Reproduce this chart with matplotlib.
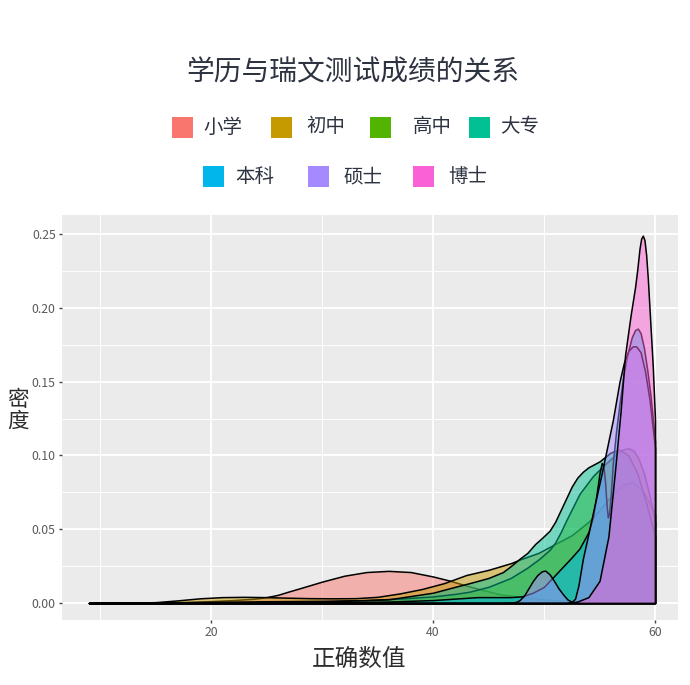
import matplotlib
matplotlib.use("Agg")
import matplotlib.pyplot as plt
from matplotlib.colors import to_rgba
from matplotlib.patches import Rectangle

plt.rcParams['font.family'] = ['Noto Sans CJK SC', 'DejaVu Sans']

# ---------------- data ----------------
categories = ["小学", "初中", "高中", "大专", "本科", "硕士", "博士"]
colors = ["#F8766D", "#C49A00", "#53B400", "#00C094", "#00B6EB", "#A58AFF", "#FB61D7"]

x_primary = [9, 12, 15, 18, 20, 22, 24, 25, 26, 27, 28, 30, 32, 34, 36, 38, 40, 41.5, 43, 44.5, 46, 48, 50, 52, 54, 56, 58, 60]
d_primary = [0.0, 0.0001, 0.0003, 0.0008, 0.0013, 0.0020, 0.0030, 0.0040, 0.0055, 0.0078, 0.0100, 0.0145, 0.0185, 0.0210, 0.0218, 0.0210, 0.0180, 0.0152, 0.0118, 0.0088, 0.0060, 0.0040, 0.0025, 0.0015, 0.0010, 0.0006, 0.0003, 0.0001]

x_junior = [9, 12, 15, 17, 19, 21, 23, 25, 27, 29, 31, 33, 35, 37, 39, 41, 43, 45, 47, 48, 49.5, 51, 52.5, 54, 55, 56, 57, 58, 59, 60]
d_junior = [0.0, 0.0001, 0.0006, 0.0018, 0.0032, 0.0040, 0.0042, 0.0040, 0.0036, 0.0033, 0.0032, 0.0033, 0.0042, 0.0065, 0.0095, 0.0135, 0.0190, 0.0225, 0.0270, 0.0300, 0.0340, 0.0400, 0.0460, 0.0550, 0.0630, 0.0720, 0.0800, 0.0820, 0.0750, 0.0600]

x_senior = [9, 15, 20, 25, 30, 34, 37, 40, 42, 43.3, 45, 47, 48.5, 49.5, 50.5, 51.0, 51.5, 52.0, 52.6, 53.2, 53.9, 54.4, 54.8, 55.5, 56.5, 57.1, 57.6, 58.1, 58.5, 59.0, 59.5, 60]
d_senior = [0.0, 0.0002, 0.0008, 0.0012, 0.0015, 0.0020, 0.0030, 0.0045, 0.0062, 0.0077, 0.0110, 0.0170, 0.0240, 0.0295, 0.0360, 0.0410, 0.0480, 0.0560, 0.0650, 0.0740, 0.0810, 0.0860, 0.0890, 0.0940, 0.1010, 0.1040, 0.1050, 0.1030, 0.0980, 0.0880, 0.0730, 0.0550]

x_college = [9, 20, 30, 36, 40, 42, 43.3, 45, 46.3, 47, 47.8, 48.5, 49.2, 49.8, 50.5, 51.0, 51.5, 52.0, 52.5, 53.0, 53.5, 54.0, 54.5, 55.0, 55.5, 56.0, 56.8, 57.6, 58.4, 59.2, 60]
d_college = [0.0, 0.0003, 0.0010, 0.0025, 0.0070, 0.0110, 0.0135, 0.0170, 0.0210, 0.0250, 0.0300, 0.0340, 0.0400, 0.0440, 0.0490, 0.0550, 0.0630, 0.0710, 0.0790, 0.0850, 0.0890, 0.0920, 0.0940, 0.0960, 0.0990, 0.1020, 0.1040, 0.1000, 0.0880, 0.0680, 0.0450]

x_bachelor = [9, 20, 30, 36, 40, 42, 44, 46, 47, 48, 49, 50, 50.5, 51.5, 52.5, 53.2, 54.0, 54.4, 54.7, 55.0, 55.2, 55.35, 55.5, 55.65, 55.75, 55.85, 56.0, 56.2, 56.5, 56.8, 57.1, 57.5, 57.9, 58.2, 58.45, 58.7, 59.0, 59.3, 59.6, 60]
d_bachelor = [0.0, 0.0002, 0.0005, 0.0010, 0.0020, 0.0030, 0.0040, 0.0040, 0.0040, 0.0045, 0.0070, 0.0110, 0.0150, 0.0230, 0.0310, 0.0370, 0.0480, 0.0580, 0.0720, 0.0880, 0.0950, 0.0930, 0.0820, 0.0650, 0.0580, 0.0600, 0.0720, 0.0950, 0.1170, 0.1350, 0.1520, 0.1680, 0.1800, 0.1850, 0.1860, 0.1830, 0.1730, 0.1580, 0.1400, 0.1100]

x_master = [9, 46, 47, 47.5, 47.8, 48.2, 48.6, 49.0, 49.4, 49.8, 50.1, 50.5, 50.9, 51.3, 51.7, 52.1, 52.5, 52.8, 53.1, 53.5, 54.0, 54.4, 55.2, 55.7, 56.2, 56.8, 57.2, 57.6, 58.0, 58.3, 58.7, 59.1, 59.5, 60]
d_master = [0.0, 0.0, 0.0002, 0.0008, 0.0020, 0.0050, 0.0100, 0.0150, 0.0190, 0.0215, 0.0220, 0.0195, 0.0150, 0.0100, 0.0060, 0.0025, 0.0008, 0.0030, 0.0120, 0.0300, 0.0470, 0.0610, 0.0880, 0.1060, 0.1240, 0.1500, 0.1630, 0.1710, 0.1740, 0.1740, 0.1700, 0.1570, 0.1380, 0.1050]

x_doctor = [9, 52, 53, 54, 55, 55.8, 56.4, 56.9, 57.3, 57.8, 58.2, 58.4, 58.6, 58.75, 58.9, 59.05, 59.2, 59.35, 59.5, 59.65, 59.8, 60]
d_doctor = [0.0, 0.0, 0.0010, 0.0040, 0.0150, 0.0450, 0.0900, 0.1300, 0.1680, 0.1950, 0.2140, 0.2260, 0.2400, 0.2470, 0.2490, 0.2460, 0.2360, 0.2200, 0.2000, 0.1800, 0.1600, 0.1240]

series_x = [x_primary, x_junior, x_senior, x_college, x_bachelor, x_master, x_doctor]
series_d = [d_primary, d_junior, d_senior, d_college, d_bachelor, d_master, d_doctor]

x_ticks = [20, 40, 60]
x_minor = [10, 30, 50]
y_ticks = [0.00, 0.05, 0.10, 0.15, 0.20, 0.25]
y_minor = [0.025, 0.075, 0.125, 0.175, 0.225]
y_tick_labels = ["0.00", "0.05", "0.10", "0.15", "0.20", "0.25"]

title = "学历与瑞文测试成绩的关系"
x_label = "正确数值"
y_label = "密\n度"

# ---------------- figure ----------------
W, H = 690, 685
fig = plt.figure(figsize=(W / 100, H / 100), dpi=100)
fig.patch.set_facecolor("white")

def fx(px):
    return px / W

def fy(py):
    return 1 - py / H

ax = fig.add_axes([fx(62), fy(620), fx(678) - fx(62), fy(215) - fy(620)])
ax.set_facecolor("#EBEBEB")
for s in ax.spines.values():
    s.set_visible(False)

ax.set_xlim(6.58, 62.07)
ax.set_ylim(-0.0115, 0.263)
ax.set_xticks(x_ticks)
ax.set_xticks(x_minor, minor=True)
ax.set_yticks(y_ticks)
ax.set_yticklabels(y_tick_labels)
ax.set_yticks(y_minor, minor=True)
ax.grid(which="major", color="white", linewidth=1.3)
ax.grid(which="minor", color="white", linewidth=0.65)
ax.set_axisbelow(True)
ax.tick_params(which="major", length=2.5, width=1.0, color="#444444",
               labelsize=8.8, labelcolor="#5a5a5a", pad=2)
ax.tick_params(which="minor", length=0)

for xs, ds, c in zip(series_x, series_d, colors):
    ax.fill_between(xs, 0, ds, facecolor=to_rgba(c, 0.5), edgecolor="black",
                    linewidth=1.1, joinstyle="round")

# title
fig.text(fx(353), fy(72), title, ha="center", va="center", fontsize=20,
         color="#2d3340", fontweight="medium")

# legend (manual, ggplot-style two rows)
legend_items = [
    (0, 172, 203, 127), (1, 271, 306, 127), (2, 370, 413, 127), (3, 469, 500, 127),
    (4, 203, 235, 177), (5, 308, 343, 177), (6, 413, 448, 177),
]
key = 21
for idx, kx, lx, cy in legend_items:
    fig.patches.append(Rectangle((fx(kx), fy(cy + key / 2)), key / W, key / H,
                                 transform=fig.transFigure, facecolor=colors[idx],
                                 edgecolor="none"))
    fig.text(fx(lx), fy(cy), categories[idx], ha="left", va="center",
             fontsize=14, color="#2d3340")

# axis labels
fig.text(fx(359), fy(659), x_label, ha="center", va="center", fontsize=17,
         color="#2d2d2d")
fig.text(fx(18), fy(411), y_label, ha="center", va="center", fontsize=15.5,
         color="#2d2d2d", linespacing=0.95)

fig.savefig("out.png", dpi=100, facecolor="white")
